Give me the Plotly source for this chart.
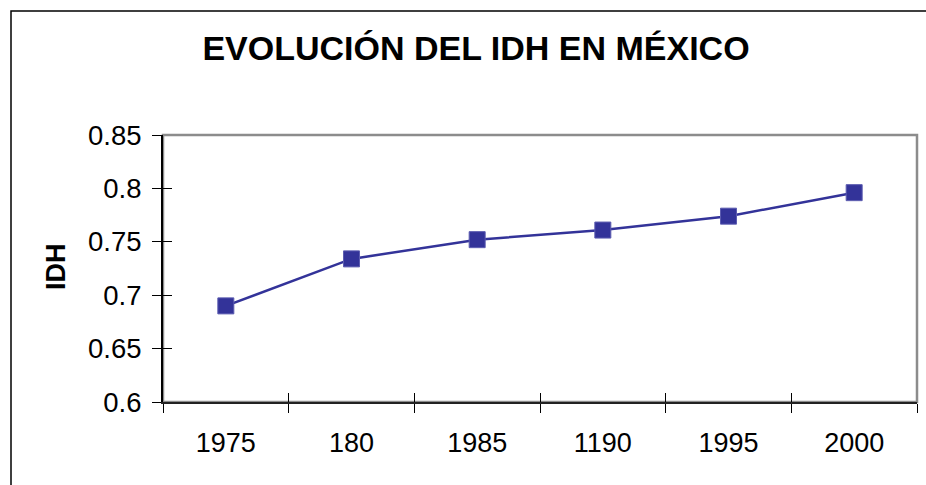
import plotly.graph_objects as go

years = ["1975", "180", "1985", "1190", "1995", "2000"]
idh = [0.690, 0.734, 0.752, 0.761, 0.774, 0.796]
y_ticks = [0.6, 0.65, 0.7, 0.75, 0.8, 0.85]
y_tick_labels = ["0.6", "0.65", "0.7", "0.75", "0.8", "0.85"]

W, H = 926, 485
L, R, T, B = 163, 9, 135, 83
pw, ph = W - L - R, H - T - B

def px_x(p):
    return (p - L) / pw

def px_y(p):
    return (H - B - p) / ph

font_family = "Liberation Sans, Arial, sans-serif"
color = "#333399"

fig = go.Figure()
fig.add_trace(go.Scatter(
    x=years, y=idh, mode="lines+markers",
    line=dict(color=color, width=2.5),
    marker=dict(symbol="square", size=16, color=color,
                line=dict(color="#5c5cb0", width=1)),
    showlegend=False, hoverinfo="x+y",
))
# invisible trace to drive the overlay axes (inside half of crossing ticks)
fig.add_trace(go.Scatter(
    x=years, y=idh, mode="markers", marker=dict(opacity=0),
    xaxis="x2", yaxis="y2", showlegend=False, hoverinfo="skip",
))

fig.update_layout(
    width=W, height=H,
    margin=dict(l=L, r=R, t=T, b=B, pad=0),
    paper_bgcolor="white", plot_bgcolor="white",
    font=dict(family=font_family, color="black", size=27),
    title=dict(text="<b>EVOLUCIÓN DEL IDH EN MÉXICO</b>",
               x=476 / W, xanchor="center", y=1 - 48 / H, yanchor="middle",
               xref="container", yref="container",
               font=dict(family=font_family, size=34, color="black")),
    xaxis=dict(type="category", range=[-0.5, 5.5], tickson="boundaries",
               ticks="outside", ticklen=9, tickwidth=1, tickcolor="black",
               showline=True, linecolor="#222222", linewidth=2,
               showgrid=False, zeroline=False,
               tickfont=dict(size=27, family=font_family),
               ticklabelstandoff=16),
    yaxis=dict(range=[0.6, 0.85], tickvals=y_ticks, ticktext=y_tick_labels,
               ticks="outside", ticklen=9, tickwidth=1, tickcolor="black",
               showline=True, linecolor="black", linewidth=2,
               showgrid=False, zeroline=False,
               tickfont=dict(size=27.5, family=font_family),
               ticklabelstandoff=5),
    xaxis2=dict(type="category", range=[-0.5, 5.5], overlaying="x",
                tickson="boundaries", ticks="inside", ticklen=9, tickwidth=1,
                tickcolor="black", showticklabels=False, showline=False,
                showgrid=False, zeroline=False, side="bottom"),
    yaxis2=dict(range=[0.6, 0.85], overlaying="y", tickvals=y_ticks,
                ticks="inside", ticklen=9, tickwidth=1, tickcolor="black",
                showticklabels=False, showline=False, showgrid=False,
                zeroline=False, side="left"),
    shapes=[
        # gray plot-area border (top/right visible)
        dict(type="rect", xref="paper", yref="paper", x0=0, x1=1, y0=0, y1=1,
             line=dict(color="#8c8c8c", width=2.5), layer="below"),
        # outer chart border
        dict(type="rect", xref="paper", yref="paper",
             x0=px_x(11), x1=px_x(940), y0=px_y(500), y1=px_y(11),
             line=dict(color="black", width=1.5), layer="below"),
    ],
    annotations=[
        dict(text="<b>IDH</b>", textangle=-90, xref="paper", yref="paper",
             x=px_x(56), y=px_y(267), xanchor="center", yanchor="middle",
             showarrow=False, font=dict(family=font_family, size=27, color="black")),
    ],
)

fig.write_html("out.html", config={"displayModeBar": False},
               post_script="document.body.style.margin='0';document.body.style.padding='0';")
